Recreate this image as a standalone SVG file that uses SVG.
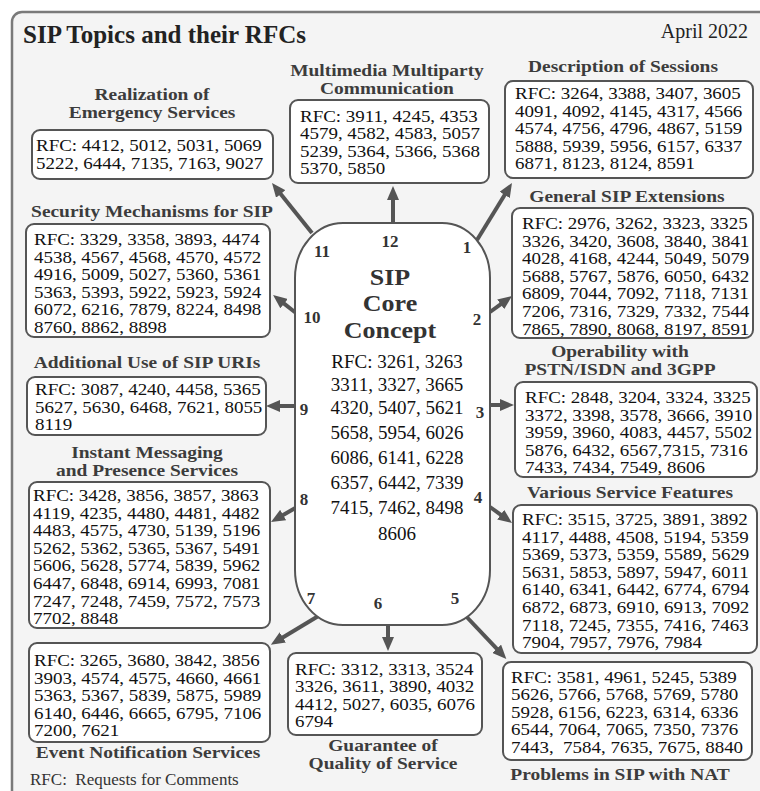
<svg xmlns="http://www.w3.org/2000/svg" width="760" height="791" viewBox="0 0 760 791">
<defs>
<style>
.frame{fill:#f4f4f4;stroke:#7a7a7a;stroke-width:2.5}
.box{fill:#fff;stroke:#555;stroke-width:2}
.t{font-family:"Liberation Serif","Times New Roman",serif;font-size:15.8px;fill:#111}
.h{font-family:"Liberation Serif","Times New Roman",serif;font-size:16.2px;font-weight:bold;fill:#3c3c3c;text-anchor:middle}
.n{font-family:"Liberation Serif","Times New Roman",serif;font-size:17px;font-weight:bold;fill:#333;text-anchor:middle}
.c{font-family:"Liberation Serif","Times New Roman",serif;font-size:23.4px;font-weight:bold;fill:#333;text-anchor:middle}
.ct{font-family:"Liberation Serif","Times New Roman",serif;font-size:19px;fill:#111;text-anchor:middle}
.ln{stroke:#555;stroke-width:4;fill:none;marker-end:url(#ah)}
</style>
<marker id="ah" viewBox="0 0 14 12" refX="2" refY="6" markerWidth="14" markerHeight="12" orient="auto" markerUnits="userSpaceOnUse">
<path d="M0,0 L14,6 L0,12 z" fill="#555"/>
</marker>
</defs>
<rect width="760" height="791" fill="#fff"/>
<rect class="frame" x="12" y="12" width="760" height="800" rx="10"/>
<text x="23" y="43" style="font-family:'Liberation Serif','Times New Roman',serif;font-size:25px;font-weight:bold;fill:#222">SIP Topics and their RFCs</text>
<text x="748" y="38" style="font-family:'Liberation Serif','Times New Roman',serif;font-size:20px;fill:#222;text-anchor:end">April 2022</text>

<g id="connectors">
<line class="ln" x1="312" y1="233" x2="279.5" y2="192.4"/>
<line class="ln" x1="393" y1="223" x2="393" y2="198"/>
<line class="ln" x1="477" y1="240" x2="505.7" y2="193.2"/>
<line class="ln" x1="490" y1="312" x2="502.3" y2="303.1"/>
<line class="ln" x1="296" y1="313" x2="282.5" y2="302.4"/>
<line class="ln" x1="296" y1="406" x2="278" y2="406"/>
<line class="ln" x1="490" y1="405" x2="502" y2="405"/>
<line class="ln" x1="297" y1="507" x2="281.4" y2="516"/>
<line class="ln" x1="490" y1="507" x2="502.3" y2="515.9"/>
<line class="ln" x1="330" y1="609" x2="281.1" y2="638.5"/>
<line class="ln" x1="388" y1="624" x2="388" y2="639"/>
<line class="ln" x1="462" y1="612" x2="498.1" y2="650.2"/>
</g>

<g id="core">
<path class="box" d="M343,223 H442 A48,55 0 0 1 490,278 V570 A48,55 0 0 1 442,625 H343 A48,55 0 0 1 295,570 V278 A48,55 0 0 1 343,223 Z"/>
<text class="c" transform="translate(390,0) scale(1.11,1)"><tspan x="0" y="285">SIP</tspan><tspan x="0" y="311">Core</tspan><tspan x="0" y="338">Concept</tspan></text>
<text class="ct"><tspan x="397" y="368">RFC: 3261, 3263</tspan><tspan x="397" y="391">3311, 3327, 3665</tspan><tspan x="397" y="414">4320, 5407, 5621</tspan><tspan x="397" y="439">5658, 5954, 6026</tspan><tspan x="397" y="464">6086, 6141, 6228</tspan><tspan x="397" y="489">6357, 6442, 7339</tspan><tspan x="397" y="514">7415, 7462, 8498</tspan><tspan x="397" y="540">8606</tspan></text>
<text class="n" x="322" y="257">11</text>
<text class="n" x="390" y="247">12</text>
<text class="n" x="467" y="253">1</text>
<text class="n" x="312" y="323">10</text>
<text class="n" x="477" y="325">2</text>
<text class="n" x="304" y="415">9</text>
<text class="n" x="480" y="418">3</text>
<text class="n" x="304" y="505">8</text>
<text class="n" x="478" y="503">4</text>
<text class="n" x="311" y="604">7</text>
<text class="n" x="378" y="609">6</text>
<text class="n" x="455" y="604">5</text>
</g>

<g id="emergency">
<text class="h" transform="translate(152,0) scale(1.2,1)"><tspan x="0" y="100">Realization of</tspan><tspan x="0" y="118">Emergency Services</tspan></text>
<rect class="box" x="32" y="130" width="241" height="49" rx="8"/>
<text class="t" transform="translate(36,0) scale(1.2,1)"><tspan x="0" y="151">RFC: 4412, 5012, 5031, 5069</tspan><tspan x="0" y="169">5222, 6444, 7135, 7163, 9027</tspan></text>
</g>

<g id="multimedia">
<text class="h" transform="translate(387,0) scale(1.2,1)"><tspan x="0" y="76">Multimedia Multiparty</tspan><tspan x="0" y="94">Communication</tspan></text>
<rect class="box" x="290" y="100" width="199" height="83" rx="8"/>
<text class="t" transform="translate(300,0) scale(1.2,1)"><tspan x="0" y="122">RFC: 3911, 4245, 4353</tspan><tspan x="0" y="139.5">4579, 4582, 4583, 5057</tspan><tspan x="0" y="157">5239, 5364, 5366, 5368</tspan><tspan x="0" y="174.5">5370, 5850</tspan></text>
</g>

<g id="description">
<text class="h" transform="translate(623,0) scale(1.2,1)" x="0" y="72">Description of Sessions</text>
<rect class="box" x="505" y="81" width="248" height="97" rx="8"/>
<text class="t" transform="translate(515,0) scale(1.2,1)"><tspan x="0" y="99">RFC: 3264, 3388, 3407, 3605</tspan><tspan x="0" y="116.6">4091, 4092, 4145, 4317, 4566</tspan><tspan x="0" y="134.2">4574, 4756, 4796, 4867, 5159</tspan><tspan x="0" y="151.8">5888, 5939, 5956, 6157, 6337</tspan><tspan x="0" y="169.4">6871, 8123, 8124, 8591</tspan></text>
</g>

<g id="general">
<text class="h" transform="translate(627,0) scale(1.2,1)" x="0" y="202">General SIP Extensions</text>
<rect class="box" x="512" y="208" width="241" height="130" rx="8"/>
<text class="t" transform="translate(522,0) scale(1.2,1)"><tspan x="0" y="229">RFC: 2976, 3262, 3323, 3325</tspan><tspan x="0" y="246.6">3326, 3420, 3608, 3840, 3841</tspan><tspan x="0" y="264.2">4028, 4168, 4244, 5049, 5079</tspan><tspan x="0" y="281.8">5688, 5767, 5876, 6050, 6432</tspan><tspan x="0" y="299.4">6809, 7044, 7092, 7118, 7131</tspan><tspan x="0" y="317">7206, 7316, 7329, 7332, 7544</tspan><tspan x="0" y="334.6">7865, 7890, 8068, 8197, 8591</tspan></text>
</g>

<g id="security">
<text class="h" transform="translate(152,0) scale(1.2,1)" x="0" y="217">Security Mechanisms for SIP</text>
<rect class="box" x="26" y="224" width="244" height="113" rx="8"/>
<text class="t" transform="translate(34,0) scale(1.2,1)"><tspan x="0" y="245">RFC: 3329, 3358, 3893, 4474</tspan><tspan x="0" y="262.6">4538, 4567, 4568, 4570, 4572</tspan><tspan x="0" y="280.2">4916, 5009, 5027, 5360, 5361</tspan><tspan x="0" y="297.8">5363, 5393, 5922, 5923, 5924</tspan><tspan x="0" y="315.4">6072, 6216, 7879, 8224, 8498</tspan><tspan x="0" y="333">8760, 8862, 8898</tspan></text>
</g>

<g id="uris">
<text class="h" transform="translate(147,0) scale(1.2,1)" x="0" y="368">Additional Use of SIP URIs</text>
<rect class="box" x="27" y="377" width="239" height="58" rx="8"/>
<text class="t" transform="translate(35,0) scale(1.2,1)"><tspan x="0" y="395">RFC: 3087, 4240, 4458, 5365</tspan><tspan x="0" y="412.6">5627, 5630, 6468, 7621, 8055</tspan><tspan x="0" y="430.2">8119</tspan></text>
</g>

<g id="pstn">
<text class="h" transform="translate(620,0) scale(1.2,1)"><tspan x="0" y="357">Operability with</tspan><tspan x="0" y="375">PSTN/ISDN and 3GPP</tspan></text>
<rect class="box" x="515" y="382" width="242" height="95" rx="8"/>
<text class="t" transform="translate(525,0) scale(1.2,1)"><tspan x="0" y="403">RFC: 2848, 3204, 3324, 3325</tspan><tspan x="0" y="420.6">3372, 3398, 3578, 3666, 3910</tspan><tspan x="0" y="438.2">3959, 3960, 4083, 4457, 5502</tspan><tspan x="0" y="455.8">5876, 6432, 6567,7315, 7316</tspan><tspan x="0" y="473.4">7433, 7434, 7549, 8606</tspan></text>
</g>

<g id="messaging">
<text class="h" transform="translate(147,0) scale(1.2,1)"><tspan x="0" y="458">Instant Messaging</tspan><tspan x="0" y="476">and Presence Services</tspan></text>
<rect class="box" x="29" y="482" width="241" height="146" rx="8"/>
<text class="t" transform="translate(33,0) scale(1.2,1)"><tspan x="0" y="501">RFC: 3428, 3856, 3857, 3863</tspan><tspan x="0" y="518.6">4119, 4235, 4480, 4481, 4482</tspan><tspan x="0" y="536.2">4483, 4575, 4730, 5139, 5196</tspan><tspan x="0" y="553.8">5262, 5362, 5365, 5367, 5491</tspan><tspan x="0" y="571.4">5606, 5628, 5774, 5839, 5962</tspan><tspan x="0" y="589">6447, 6848, 6914, 6993, 7081</tspan><tspan x="0" y="606.6">7247, 7248, 7459, 7572, 7573</tspan><tspan x="0" y="624.2">7702, 8848</tspan></text>
</g>

<g id="features">
<text class="h" transform="translate(630,0) scale(1.2,1)" x="0" y="498">Various Service Features</text>
<rect class="box" x="513" y="505" width="244" height="148" rx="8"/>
<text class="t" transform="translate(522,0) scale(1.2,1)"><tspan x="0" y="525">RFC: 3515, 3725, 3891, 3892</tspan><tspan x="0" y="542.6">4117, 4488, 4508, 5194, 5359</tspan><tspan x="0" y="560.2">5369, 5373, 5359, 5589, 5629</tspan><tspan x="0" y="577.8">5631, 5853, 5897, 5947, 6011</tspan><tspan x="0" y="595.4">6140, 6341, 6442, 6774, 6794</tspan><tspan x="0" y="613">6872, 6873, 6910, 6913, 7092</tspan><tspan x="0" y="630.6">7118, 7245, 7355, 7416, 7463</tspan><tspan x="0" y="648.2">7904, 7957, 7976, 7984</tspan></text>
</g>

<g id="events">
<rect class="box" x="29" y="643" width="241" height="99" rx="8"/>
<text class="t" transform="translate(34,0) scale(1.2,1)"><tspan x="0" y="666">RFC: 3265, 3680, 3842, 3856</tspan><tspan x="0" y="683.6">3903, 4574, 4575, 4660, 4661</tspan><tspan x="0" y="701.2">5363, 5367, 5839, 5875, 5989</tspan><tspan x="0" y="718.8">6140, 6446, 6665, 6795, 7106</tspan><tspan x="0" y="736.4">7200, 7621</tspan></text>
<text class="h" transform="translate(148,0) scale(1.2,1)" x="0" y="758">Event Notification Services</text>
</g>

<g id="qos">
<rect class="box" x="288" y="653" width="194" height="82" rx="8"/>
<text class="t" transform="translate(295,0) scale(1.2,1)"><tspan x="0" y="675">RFC: 3312, 3313, 3524</tspan><tspan x="0" y="692.5">3326, 3611, 3890, 4032</tspan><tspan x="0" y="710">4412, 5027, 6035, 6076</tspan><tspan x="0" y="727.5">6794</tspan></text>
<text class="h" transform="translate(383,0) scale(1.2,1)"><tspan x="0" y="751">Guarantee of</tspan><tspan x="0" y="769">Quality of Service</tspan></text>
</g>

<g id="nat">
<rect class="box" x="503" y="662" width="249" height="98" rx="8"/>
<text class="t" transform="translate(511,0) scale(1.2,1)"><tspan x="0" y="683">RFC: 3581, 4961, 5245, 5389</tspan><tspan x="0" y="700.5">5626, 5766, 5768, 5769, 5780</tspan><tspan x="0" y="718">5928, 6156, 6223, 6314, 6336</tspan><tspan x="0" y="735.5">6544, 7064, 7065, 7350, 7376</tspan><tspan x="0" y="753">7443,&#160; 7584, 7635, 7675, 8840</tspan></text>
<text class="h" transform="translate(620,0) scale(1.2,1)" x="0" y="780">Problems in SIP with NAT</text>
</g>

<g id="legend">
<text x="30" y="785" style="font-family:'Liberation Serif','Times New Roman',serif;font-size:17px;fill:#333">RFC:&#160; Requests for Comments</text>
</g>
</svg>
